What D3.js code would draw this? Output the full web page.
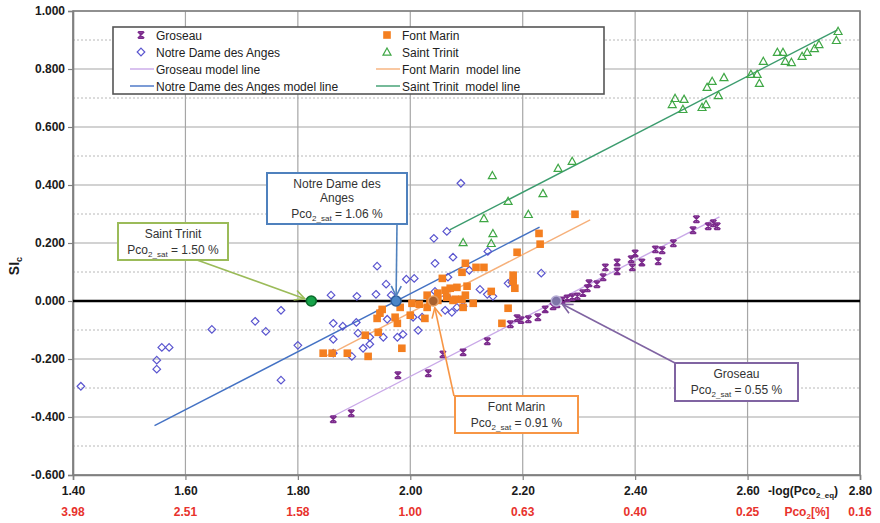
<!DOCTYPE html>
<html>
<head>
<meta charset="utf-8">
<script src="https://cdn.jsdelivr.net/npm/d3@7"></script>
<style>
  body { margin: 0; background: #fff; }
  svg { display: block; font-family: "Liberation Sans", Arial, sans-serif; }
</style>
</head>
<body>
<svg id="chart" width="880" height="523"></svg>
<script>
// ---- Axis ticks ----
const xTicks = [1.40, 1.60, 1.80, 2.00, 2.20, 2.40, 2.60, 2.80];
const pco2Labels = ["3.98", "2.51", "1.58", "1.00", "0.63", "0.40", "0.25", "0.16"];
const yTicks = [-0.6, -0.4, -0.2, 0.0, 0.2, 0.4, 0.6, 0.8, 1.0];
const yMinorTicks = [-0.5, -0.3, -0.1, 0.1, 0.3, 0.5, 0.7, 0.9];

// ---- Measured points: [-log(Pco2_eq), SIc] ----
const groseau = [
  [1.863,-0.408],[1.895,-0.387],[1.978,-0.256],[2.032,-0.249],[2.058,-0.184],[2.094,-0.177],
  [2.137,-0.139],[2.178,-0.080],[2.190,-0.059],[2.197,-0.066],[2.210,-0.063],[2.227,-0.056],
  [2.240,-0.029],[2.254,-0.018],[2.261,-0.011],[2.270,0.002],[2.279,0.009],[2.288,0.013],
  [2.297,0.016],[2.307,0.027],[2.315,0.044],[2.318,0.061],[2.332,0.058],[2.343,0.082],
  [2.347,0.116],[2.368,0.102],[2.368,0.133],[2.393,0.144],[2.395,0.116],[2.400,0.164],
  [2.412,0.133],[2.436,0.178],[2.441,0.137],[2.448,0.175],[2.468,0.199],[2.503,0.244],
  [2.509,0.282],[2.530,0.258],[2.539,0.268],[2.546,0.258]
];
const notreDame = [
  [1.414,-0.294],[1.549,-0.204],[1.549,-0.235],[1.558,-0.160],[1.571,-0.160],[1.647,-0.098],
  [1.724,-0.070],[1.743,-0.105],[1.770,-0.032],[1.770,-0.273],[1.800,-0.153],[1.859,0.020],
  [1.905,0.016],[1.939,0.023],[1.957,0.058],[1.966,0.020],[1.993,0.075],[2.007,0.078],
  [1.941,0.120],[1.863,-0.077],[1.880,-0.087],[1.904,-0.074],[1.907,-0.111],[1.928,-0.125],
  [1.952,-0.125],[1.977,-0.125],[1.987,-0.115],[1.928,-0.149],[1.916,-0.163],[1.863,-0.180],
  [1.896,-0.191],[1.863,-0.132],[1.959,-0.063],[2.005,-0.056],[2.021,-0.056],[2.014,-0.101],
  [2.042,0.216],[2.065,0.240],[2.044,0.130],[2.076,0.151],[2.044,0.033],[2.065,0.016],
  [2.062,-0.032],[2.074,-0.039],[2.083,-0.022],[2.094,-0.018],[2.090,0.406],[2.105,0.106],
  [2.124,0.040],[2.138,0.171],[2.137,0.023],[2.147,0.016],[2.174,0.061],[2.181,0.064],
  [2.233,0.096],[2.067,0.082]
];
const fontMarin = [
  [1.845,-0.180],[1.861,-0.180],[1.888,-0.180],[1.925,-0.191],[1.920,-0.118],[1.943,-0.108],
  [1.985,-0.163],[1.941,-0.060],[1.946,-0.042],[1.950,-0.029],[1.973,-0.056],[1.982,-0.022],
  [1.977,-0.077],[2.000,-0.049],[2.003,-0.008],[2.016,-0.011],[2.030,0.020],[2.030,-0.022],
  [2.026,-0.060],[2.035,-0.004],[2.049,0.027],[2.049,0.002],[2.062,0.037],[2.071,0.044],
  [2.083,0.047],[2.080,0.006],[2.057,0.078],[2.065,0.013],[2.092,0.099],[2.098,0.130],
  [2.092,0.006],[2.101,0.051],[2.117,0.116],[2.131,0.116],[2.112,-0.008],[2.094,-0.022],
  [2.183,0.089],[2.183,0.068],[2.186,0.044],[2.174,-0.025],[2.163,-0.077],[2.190,0.168],
  [2.229,0.233],[2.231,0.196],[2.293,0.299],[2.098,0.020],[2.076,0.002],[2.144,0.033]
];
const saintTrinit = [
  [2.094,0.202],[2.144,0.199],[2.147,0.233],[2.131,0.285],[2.210,0.299],[2.174,0.344],
  [2.236,0.371],[2.146,0.433],[2.263,0.458],[2.288,0.482],[2.466,0.678],[2.471,0.699],
  [2.487,0.696],[2.485,0.661],[2.519,0.668],[2.526,0.678],[2.528,0.737],[2.537,0.758],
  [2.548,0.709],[2.558,0.771],[2.606,0.782],[2.617,0.782],[2.621,0.751],[2.628,0.827],
  [2.653,0.858],[2.663,0.858],[2.667,0.827],[2.678,0.823],[2.697,0.844],[2.706,0.858],
  [2.719,0.871],[2.727,0.885],[2.758,0.899],[2.761,0.930]
];

// ---- Model lines (end points) ----
const groseauModel = [[1.860,-0.400],[2.550,0.290]];
const notreDameModel = [[1.545,-0.430],[2.230,0.255]];
const fontMarinModel = [[1.850,-0.190],[2.320,0.280]];
const saintTrinitModel = [[2.070,0.245],[2.760,0.935]];

// ---- Saturation Pco2 (%) per spring ----
const satSites = ["Saint Trinit", "Notre Dame des Anges", "Font Marin", "Groseau"];
const satPco2 = [1.50, 1.06, 0.91, 0.55];

// ---- Styles ----
const C = {
  groseau: "#7B2A8C", groseauLine: "#C9A8E8",
  nda: "#5A55CF", ndaLine: "#4472C4",
  fm: "#F47F20", fmLine: "#F6B07A",
  st: "#3FA745", stLine: "#3C9C6E"
};

const svg = d3.select("#chart");
const x = d3.scaleLinear().domain([1.4, 2.8]).range([73, 860]);
const y = d3.scaleLinear().domain([-0.6, 1.0]).range([475, 11]);

// grid
const grid = svg.append("g");
grid.selectAll("line.minor").data(yMinorTicks).join("line")
  .attr("x1", x(1.4)).attr("x2", x(2.8))
  .attr("y1", d => y(d)).attr("y2", d => y(d))
  .attr("stroke", "#b8b8b8").attr("stroke-width", 1).attr("stroke-dasharray", "2,2");
grid.selectAll("line.hmaj").data(yTicks).join("line")
  .attr("x1", x(1.4)).attr("x2", x(2.8))
  .attr("y1", d => y(d)).attr("y2", d => y(d))
  .attr("stroke", "#a6a6a6").attr("stroke-width", 1.2);
grid.selectAll("line.vmaj").data(xTicks).join("line")
  .attr("x1", d => x(d)).attr("x2", d => x(d))
  .attr("y1", y(1.0)).attr("y2", y(-0.6))
  .attr("stroke", "#a6a6a6").attr("stroke-width", 1.2);

// plot frame
svg.append("rect").attr("x", x(1.4)).attr("y", y(1.0))
  .attr("width", x(2.8) - x(1.4)).attr("height", y(-0.6) - y(1.0))
  .attr("fill", "none").attr("stroke", "#808080").attr("stroke-width", 1.6);

// axes
const fmtY = d => d.toFixed(3);
const yAxis = svg.append("g").attr("transform", `translate(${x(1.4)},0)`)
  .call(d3.axisLeft(y).tickValues(yTicks).tickFormat(fmtY).tickSize(5).tickPadding(3));
const xAxis = svg.append("g").attr("transform", `translate(0,${y(-0.6)})`)
  .call(d3.axisBottom(x).tickValues(xTicks).tickFormat(d => d.toFixed(2)).tickSize(5).tickPadding(6));
[yAxis, xAxis].forEach(a => {
  a.select(".domain").attr("stroke", "#808080").attr("stroke-width", 1.6);
  a.selectAll(".tick line").attr("stroke", "#808080").attr("stroke-width", 1.2);
  a.selectAll(".tick text").attr("font-size", 12).attr("font-weight", "bold")
    .attr("fill", "#1a1a1a").attr("font-family", "Liberation Sans, Arial, sans-serif");
});

// second x label row: Pco2 in %
svg.append("g").selectAll("text").data(xTicks).join("text")
  .attr("x", d => x(d)).attr("y", 516)
  .attr("text-anchor", "middle").attr("font-size", 12).attr("font-weight", "bold")
  .attr("fill", "#E8322C").text((d, i) => pco2Labels[i]);

// axis titles
const xt = svg.append("text").attr("x", 803).attr("y", 495)
  .attr("text-anchor", "middle").attr("font-size", 12).attr("font-weight", "bold").attr("fill", "#1a1a1a");
xt.append("tspan").text("-log(Pco");
xt.append("tspan").attr("font-size", 8).attr("dy", 3).text("2_eq");
xt.append("tspan").attr("dy", -3).text(")");

const pt = svg.append("text").attr("x", 807).attr("y", 516)
  .attr("text-anchor", "middle").attr("font-size", 12).attr("font-weight", "bold").attr("fill", "#E8322C");
pt.append("tspan").text("Pco");
pt.append("tspan").attr("font-size", 8).attr("dy", 3).text("2");
pt.append("tspan").attr("dy", -3).text("[%]");

const yt = svg.append("text").attr("transform", "translate(19,266) rotate(-90)")
  .attr("text-anchor", "middle").attr("font-size", 14).attr("font-weight", "bold").attr("fill", "#1a1a1a");
yt.append("tspan").text("SI");
yt.append("tspan").attr("font-size", 9).attr("dy", 3).text("c");

// zero line
svg.append("line").attr("x1", x(1.4)).attr("x2", x(2.8))
  .attr("y1", y(0)).attr("y2", y(0)).attr("stroke", "#000").attr("stroke-width", 2.6);

// model lines
const line = d3.line().x(d => x(d[0])).y(d => y(d[1]));
[[groseauModel, C.groseauLine], [notreDameModel, C.ndaLine],
 [fontMarinModel, C.fmLine], [saintTrinitModel, C.stLine]].forEach(([data, col]) => {
  svg.append("path").datum(data).attr("d", line)
    .attr("fill", "none").attr("stroke", col).attr("stroke-width", 1.4);
});

// marker shapes
function marker(g, type) {
  if (type === "groseau") {
    const s = 3.2;
    g.append("path")
      .attr("d", `M${-s},${-s}L${s},${s}M${s},${-s}L${-s},${s}M${-s*0.8},${-s}H${s*0.8}M${-s*0.8},${s}H${s*0.8}M0,${-s}V${s}`)
      .attr("fill", "none").attr("stroke", C.groseau).attr("stroke-width", 1.5);
  } else if (type === "nda") {
    const s = 3.8;
    g.append("path").attr("d", `M0,${-s}L${s},0L0,${s}L${-s},0Z`)
      .attr("fill", "none").attr("stroke", C.nda).attr("stroke-width", 1.2);
  } else if (type === "fm") {
    const s = 3.8;
    g.append("rect").attr("x", -s).attr("y", -s).attr("width", 2*s).attr("height", 2*s)
      .attr("fill", C.fm);
  } else if (type === "st") {
    const s = 4;
    g.append("path").attr("d", `M0,${-s}L${s},${s*0.8}L${-s},${s*0.8}Z`)
      .attr("fill", "none").attr("stroke", C.st).attr("stroke-width", 1.2);
  }
}

function scatter(data, type) {
  svg.append("g").selectAll("g").data(data).join("g")
    .attr("transform", d => `translate(${x(d[0])},${y(d[1])})`)
    .each(function () { marker(d3.select(this), type); });
}
scatter(notreDame, "nda");
scatter(saintTrinit, "st");
scatter(fontMarin, "fm");
scatter(groseau, "groseau");

// saturation points on SIc = 0
const satX = satPco2.map(p => -Math.log10(p / 100));
const satStyle = [
  { fill: "#16A34A", stroke: "#0B6B2B" },
  { fill: "#4A86C8", stroke: "#2D5E9A" },
  { fill: "#A8612E", stroke: "#E39A5E" },
  { fill: "#7E74A8", stroke: "#B7AED6" }
];
svg.append("g").selectAll("circle").data(satX).join("circle")
  .attr("cx", d => x(d)).attr("cy", y(0)).attr("r", 5)
  .attr("fill", (d, i) => satStyle[i].fill).attr("stroke", (d, i) => satStyle[i].stroke)
  .attr("stroke-width", 1.6);

// arrowheads
const defs = svg.append("defs");
function arrowDef(id, col) {
  defs.append("marker").attr("id", id).attr("viewBox", "0 0 12 12")
    .attr("refX", 11).attr("refY", 6).attr("markerWidth", 12).attr("markerHeight", 12)
    .attr("markerUnits", "userSpaceOnUse").attr("orient", "auto")
    .append("path").attr("d", "M1,1L11,6L1,11").attr("fill", "none")
    .attr("stroke", col).attr("stroke-width", 1.6);
}

// callout boxes
const callouts = [
  { site: 0, col: "#9BBB59", box: [118, 223, 110, 37], lines: ["Saint Trinit"], from: [197, 260], gap: 7 },
  { site: 1, col: "#4F81BD", box: [267, 173, 140, 51], lines: ["Notre Dame des", "Anges"], from: [397, 224], gap: 5 },
  { site: 2, col: "#F79646", box: [455, 396, 123, 37], lines: ["Font Marin"], from: [454, 396], gap: 7 },
  { site: 3, col: "#8064A2", box: [675, 363, 123, 38], lines: ["Groseau"], from: [675, 363], gap: 7 }
];
callouts.forEach((c, k) => {
  const id = "arrow" + k;
  arrowDef(id, c.col);
  const tx = x(satX[c.site]), ty = y(0);
  const dx = tx - c.from[0], dy = ty - c.from[1];
  const len = Math.hypot(dx, dy);
  svg.append("line").attr("x1", c.from[0]).attr("y1", c.from[1])
    .attr("x2", tx - dx / len * c.gap).attr("y2", ty - dy / len * c.gap)
    .attr("stroke", c.col).attr("stroke-width", 1.6).attr("marker-end", `url(#${id})`);
  const [bx, by, bw, bh] = c.box;
  svg.append("rect").attr("x", bx).attr("y", by).attr("width", bw).attr("height", bh)
    .attr("fill", "#fff").attr("stroke", c.col).attr("stroke-width", 2);
  const cx = bx + bw / 2;
  c.lines.forEach((t, i) => {
    svg.append("text").attr("x", cx).attr("y", by + 15 + i * 14)
      .attr("text-anchor", "middle").attr("font-size", 12).attr("fill", "#333").text(t);
  });
  const t = svg.append("text").attr("x", cx).attr("y", by + 15 + c.lines.length * 14 + 2)
    .attr("text-anchor", "middle").attr("font-size", 12).attr("fill", "#333");
  t.append("tspan").text("Pco");
  t.append("tspan").attr("font-size", 8).attr("dy", 3).text("2_sat");
  t.append("tspan").attr("dy", -3).text(` = ${satPco2[c.site].toFixed(2)} %`);
});

// legend
const lg = svg.append("g");
lg.append("rect").attr("x", 113).attr("y", 27).attr("width", 491).attr("height", 67)
  .attr("fill", "#fff").attr("stroke", "#555").attr("stroke-width", 1.6);
const legendItems = [
  { col: 0, row: 0, kind: "groseau", label: "Groseau" },
  { col: 0, row: 1, kind: "nda", label: "Notre Dame des Anges" },
  { col: 0, row: 2, line: C.groseauLine, label: "Groseau model line" },
  { col: 0, row: 3, line: C.ndaLine, label: "Notre Dame des Anges model line" },
  { col: 1, row: 0, kind: "fm", label: "Font Marin" },
  { col: 1, row: 1, kind: "st", label: "Saint Trinit" },
  { col: 1, row: 2, line: C.fmLine, label: "Font Marin  model line" },
  { col: 1, row: 3, line: C.stLine, label: "Saint Trinit  model line" }
];
legendItems.forEach(it => {
  const x0 = it.col === 0 ? 130 : 376;
  const yy = 35 + it.row * 17;
  if (it.kind) {
    const g = lg.append("g").attr("transform", `translate(${x0 + 11},${yy})`);
    marker(g, it.kind);
  } else {
    lg.append("line").attr("x1", x0).attr("x2", x0 + 24).attr("y1", yy).attr("y2", yy)
      .attr("stroke", it.line).attr("stroke-width", 1.4);
  }
  lg.append("text").attr("x", x0 + 26).attr("y", yy + 4.5)
    .attr("font-size", 12).attr("fill", "#222").attr("xml:space", "preserve").text(it.label);
});
</script>
</body>
</html>
